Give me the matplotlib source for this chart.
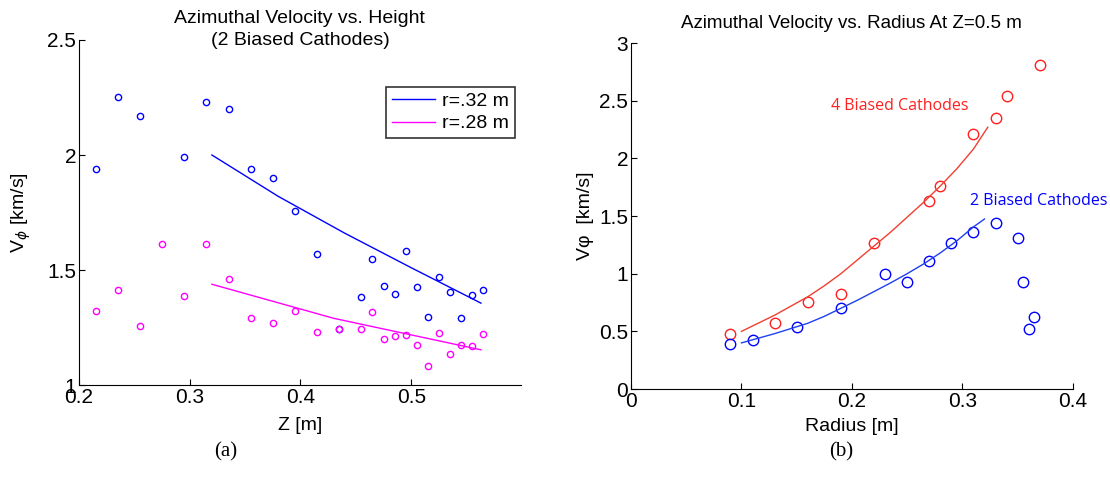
"""
Два графіки азимутальної швидкості: (a) від висоти, (b) від радіуса.
"""

import matplotlib
matplotlib.use("Agg")
import matplotlib.pyplot as plt

plt.rcParams["font.family"] = ["Liberation Sans", "DejaVu Sans"]
plt.rcParams["mathtext.fontset"] = "dejavusans"

# (a) швидкість від висоти, 2 катоди
z_points = [0.215, 0.235, 0.255, 0.275, 0.295, 0.315, 0.335, 0.355, 0.375, 0.395,
            0.415, 0.435, 0.455, 0.465, 0.475, 0.485, 0.495, 0.505, 0.515, 0.525,
            0.535, 0.545, 0.555, 0.565]
v_r32 = [1.94, 2.25, 2.17, None, 1.99, 2.23, 2.20, 1.94, 1.90, 1.757,
         1.571, 1.243, 1.381, 1.549, 1.430, 1.394, 1.584, 1.425, 1.297, 1.470,
         1.403, 1.293, 1.390, 1.412]
v_r28 = [1.322, 1.411, 1.256, 1.613, 1.385, 1.613, 1.463, 1.291, 1.269, 1.322,
         1.230, 1.242, 1.243, 1.318, 1.202, 1.215, 1.219, 1.176, 1.084, 1.225,
         1.133, 1.172, 1.168, 1.220]

fit_z = [0.32, 0.38, 0.44, 0.50, 0.563]
fit_r32 = [2.0, 1.82, 1.66, 1.51, 1.356]
fit_z28 = [0.32, 0.43, 0.563]
fit_r28 = [1.438, 1.29, 1.153]

# (b) швидкість від радіуса при Z=0.5 м
r_4cath = [0.09, 0.13, 0.16, 0.19, 0.22, 0.27, 0.28, 0.31, 0.33, 0.34, 0.37]
v_4cath = [0.474, 0.572, 0.757, 0.827, 1.266, 1.627, 1.763, 2.211, 2.353, 2.538, 2.812]
r_2cath = [0.09, 0.11, 0.15, 0.19, 0.23, 0.25, 0.27, 0.29, 0.31, 0.33, 0.35, 0.355,
           0.365, 0.36]
v_2cath = [0.393, 0.428, 0.535, 0.702, 0.994, 0.931, 1.11, 1.266, 1.364, 1.442, 1.309,
           0.931, 0.624, 0.517]

fit_r4 = [0.10, 0.115, 0.13, 0.145, 0.16, 0.175, 0.19, 0.205, 0.22, 0.235, 0.25,
          0.265, 0.28, 0.295, 0.31, 0.323]
fit_v4 = [0.50, 0.57, 0.64, 0.72, 0.80, 0.895, 1.00, 1.12, 1.24, 1.36, 1.49,
          1.62, 1.76, 1.91, 2.08, 2.27]
fit_r2 = [0.10, 0.115, 0.13, 0.145, 0.16, 0.175, 0.19, 0.205, 0.22, 0.235, 0.25,
          0.265, 0.28, 0.295, 0.31, 0.32]
fit_v2 = [0.40, 0.44, 0.48, 0.525, 0.57, 0.63, 0.70, 0.77, 0.845, 0.92, 1.00,
          1.085, 1.18, 1.285, 1.405, 1.474]

BLUE = "#0000ff"
MAGENTA = "#ff00ff"
RED_PT = "#ff2020"
RED_LN = "#f04030"
BLUE_LN = "#2040f0"


def style_axes(ax):
    """Залишає лише ліву та нижню осі, тики всередину."""
    ax.spines["top"].set_visible(False)
    ax.spines["right"].set_visible(False)
    for side in ("left", "bottom"):
        ax.spines[side].set_linewidth(0.8)
    ax.tick_params(direction="in", length=4, width=0.8, labelsize=15, pad=2)


fig = plt.figure(figsize=(11.1, 4.95), dpi=100)

# Графік (a)
ax1 = fig.add_axes([0.0712, 0.2222, 0.398, 0.697])
style_axes(ax1)
z_blue = [z for z, v in zip(z_points, v_r32) if v is not None]
v_blue = [v for v in v_r32 if v is not None]
ax1.plot(z_blue, v_blue, "o", mfc="none", mec=BLUE, ms=4.5, mew=1.0)
ax1.plot(z_points, v_r28, "o", mfc="none", mec=MAGENTA, ms=4.5, mew=1.0)
ax1.plot(fit_z, fit_r32, color=BLUE, lw=1.0, label="r=.32 m")
ax1.plot(fit_z28, fit_r28, color=MAGENTA, lw=1.0, label="r=.28 m")
ax1.set_xlim(0.2, 0.599)
ax1.set_ylim(1, 2.5)
ax1.set_xticks([0.2, 0.3, 0.4, 0.5])
ax1.set_xticklabels(["0.2", "0.3", "0.4", "0.5"])
ax1.set_yticks([1, 1.5, 2, 2.5])
ax1.set_yticklabels(["1", "1.5", "2", "2.5"])
ax1.set_title("Azimuthal Velocity vs. Height\n(2 Biased Cathodes)", fontsize=14,
              y=0.985, pad=0, linespacing=1.4)
ax1.set_xlabel("Z [m]", fontsize=14, labelpad=7)
ax1.set_ylabel(r"V$_\phi$ [km/s]", fontsize=14, labelpad=10)
leg = ax1.legend(loc="upper right", bbox_to_anchor=(0.987, 0.865), fontsize=14,
                 frameon=True, fancybox=False, edgecolor="black", handlelength=2.2,
                 handletextpad=0.4, borderpad=0.3, labelspacing=0.25,
                 borderaxespad=0)
leg.get_frame().set_linewidth(1.2)

# Графік (b)
ax2 = fig.add_axes([0.5685, 0.2141, 0.398, 0.699])
style_axes(ax2)
ax2.plot(r_4cath, v_4cath, "o", mfc="none", mec=RED_PT, ms=7.5, mew=1.0)
ax2.plot(r_2cath, v_2cath, "o", mfc="none", mec=BLUE, ms=7.5, mew=1.0)
ax2.plot(fit_r4, fit_v4, color=RED_LN, lw=1.0)
ax2.plot(fit_r2, fit_v2, color=BLUE_LN, lw=1.0)
ax2.set_xlim(0, 0.4)
ax2.set_ylim(0, 3)
ax2.set_xticks([0, 0.1, 0.2, 0.3, 0.4])
ax2.set_xticklabels(["0", "0.1", "0.2", "0.3", "0.4"])
ax2.set_yticks([0, 0.5, 1, 1.5, 2, 2.5, 3])
ax2.set_yticklabels(["0", "0.5", "1", "1.5", "2", "2.5", "3"])
ax2.set_title("Azimuthal Velocity vs. Radius At Z=0.5 m", fontsize=13.5, pad=11)
ax2.set_xlabel("Radius [m]", fontsize=14, labelpad=5)
ax2.set_ylabel("Vφ  [km/s]", fontsize=14, labelpad=4)
ax2.text(0.181, 2.45, "4 Biased Cathodes", color=RED_PT, fontsize=11.5,
         family=["Open Sans", "DejaVu Sans"], va="center", ha="left")
ax2.text(0.307, 1.627, "2 Biased Cathodes", color=BLUE, fontsize=11.5,
         family=["Open Sans", "DejaVu Sans"], va="center", ha="left", clip_on=False)

# Підписи (a) та (b)
fig.text(226 / 1110, 1 - 452 / 495, "(a)", fontsize=15, family="Liberation Serif",
         ha="center", va="center")
fig.text(841 / 1110, 1 - 452 / 495, "(b)", fontsize=15, family="Liberation Serif",
         ha="center", va="center")

fig.savefig("out.png", dpi=100)
